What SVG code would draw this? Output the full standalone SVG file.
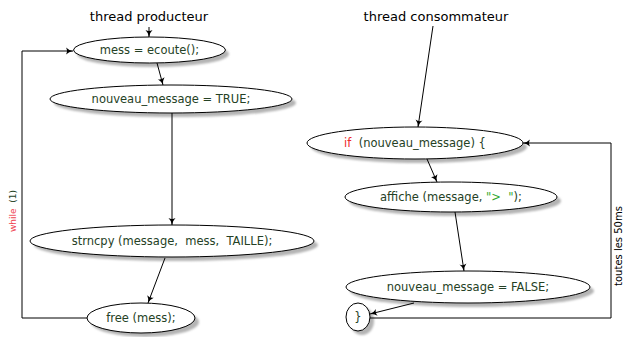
<svg xmlns="http://www.w3.org/2000/svg" width="626" height="337" viewBox="0 0 626 337">
<defs>
<marker id="arr" markerWidth="10" markerHeight="10" refX="8" refY="5" orient="auto" markerUnits="userSpaceOnUse">
<path d="M1,1.5 Q4,4.5 8,5 Q4,5.5 1,8.5 Q3,5 1,1.5 Z" fill="#000"/>
</marker>
<filter id="blur" x="-20%" y="-50%" width="140%" height="200%"><feGaussianBlur stdDeviation="1"/></filter>
</defs>
<style>
.sh{fill:#b4b4b4;filter:url(#blur)}
.nd{fill:#fff;stroke:#000;stroke-width:1}
.t{font-family:"DejaVu Sans","Liberation Sans",sans-serif;font-size:11.5px;fill:#254125;text-anchor:middle;white-space:pre}
.ti{font-family:"DejaVu Sans","Liberation Sans",sans-serif;font-size:13px;fill:#000;text-anchor:middle}
.lb{font-family:"DejaVu Sans","Liberation Sans",sans-serif;text-anchor:middle;white-space:pre}
.c{fill:none;stroke:#000;stroke-width:1}
.red{fill:#ee2a2a}
.grn{fill:#2fa82f}
</style>
<rect width="626" height="337" fill="#fff"/>
<g id="title-prod"><text class="ti" x="149" y="21">thread producteur</text></g>
<g id="title-cons"><text class="ti" x="436" y="21">thread consommateur</text></g>

<g id="n1"><ellipse class="sh" cx="153" cy="54" rx="76" ry="13"/><ellipse class="nd" cx="149.5" cy="50" rx="76" ry="13"/><text class="t" x="149.5" y="54">mess = ecoute();</text></g>
<g id="n2"><ellipse class="sh" cx="175" cy="103" rx="121" ry="14"/><ellipse class="nd" cx="171" cy="99" rx="121" ry="14"/><text class="t" x="171" y="103">nouveau_message = TRUE;</text></g>
<g id="n3"><ellipse class="sh" cx="176" cy="245" rx="142" ry="16"/><ellipse class="nd" cx="172" cy="241" rx="142" ry="16"/><text class="t" x="172" y="245">strncpy (message,  mess,  TAILLE);</text></g>
<g id="n4"><ellipse class="sh" cx="145" cy="322" rx="54" ry="15"/><ellipse class="nd" cx="141" cy="318" rx="54" ry="15"/><text class="t" x="141" y="322">free (mess);</text></g>

<g id="n5"><ellipse class="sh" cx="419" cy="147" rx="108" ry="16"/><ellipse class="nd" cx="415" cy="143" rx="108" ry="16"/><text class="t" x="415" y="147"><tspan class="red">if</tspan>  (nouveau_message) {</text></g>
<g id="n6"><ellipse class="sh" cx="455" cy="201" rx="106" ry="15"/><ellipse class="nd" cx="451" cy="197" rx="106" ry="15"/><text class="t" x="451" y="201">affiche (message, <tspan class="grn">"&gt;  "</tspan>);</text></g>
<g id="n7"><ellipse class="sh" cx="472" cy="291" rx="122" ry="16"/><ellipse class="nd" cx="468" cy="287" rx="122" ry="16"/><text class="t" x="468" y="291">nouveau_message = FALSE;</text></g>
<g id="n8"><ellipse class="sh" cx="362" cy="321" rx="12" ry="14"/><ellipse class="nd" cx="358" cy="317" rx="12" ry="14"/><text class="t" x="358" y="321">}</text></g>

<g id="connectors">
<line class="c" x1="149" y1="27" x2="149" y2="37" marker-end="url(#arr)"/>
<line class="c" x1="157" y1="63" x2="163" y2="85" marker-end="url(#arr)"/>
<line class="c" x1="172" y1="113" x2="172" y2="225" marker-end="url(#arr)"/>
<line class="c" x1="165" y1="258" x2="148" y2="303" marker-end="url(#arr)"/>
<polyline class="c" points="87,318 22,318 22,51 73,51" marker-end="url(#arr)"/>
<line class="c" x1="433" y1="26" x2="418" y2="127" marker-end="url(#arr)"/>
<line class="c" x1="427" y1="159" x2="437" y2="182" marker-end="url(#arr)"/>
<line class="c" x1="455" y1="212" x2="464" y2="271" marker-end="url(#arr)"/>
<line class="c" x1="414" y1="303" x2="370" y2="314" marker-end="url(#arr)"/>
<polyline class="c" points="370,318 611,318 611,143 523,143" marker-end="url(#arr)"/>
<text class="lb" transform="translate(16,211) rotate(-90)" style="font-size:9px;fill:#254125"><tspan fill="#f0404f">while</tspan>  (1)</text>
<text class="lb" transform="translate(622,246) rotate(-90)" style="font-size:10px;fill:#000">toutes les 50ms</text>
</g>
</svg>
